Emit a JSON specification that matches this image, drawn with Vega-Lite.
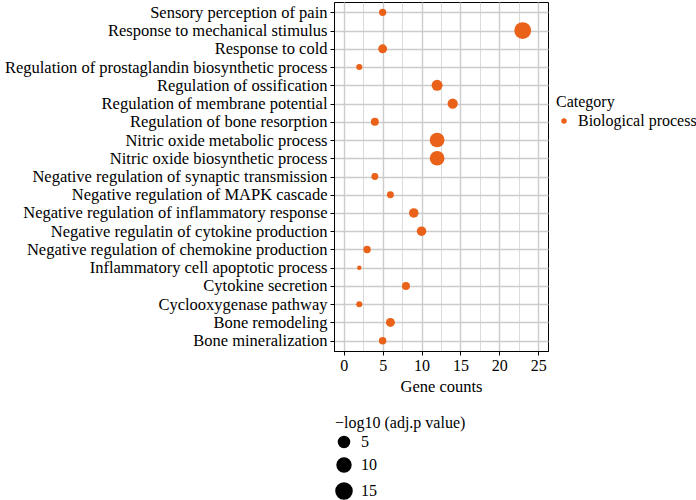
{
  "$schema": "https://vega.github.io/schema/vega-lite/v6.json",
  "width": 214,
  "height": 349,
  "autosize": {"type": "none"},
  "padding": {"left": 334, "top": 2, "right": 148, "bottom": 149},
  "background": "white",
  "config": {
    "font": "Liberation Serif",
    "view": {"stroke": "black", "strokeWidth": 1}
  },
  "data": {
    "values": [
      {"term": "Sensory perception of pain", "count": 5, "logp": 1.1, "category": "Biological process"},
      {"term": "Response to mechanical stimulus", "count": 23, "logp": 17, "category": "Biological process"},
      {"term": "Response to cold", "count": 5, "logp": 2.5, "category": "Biological process"},
      {"term": "Regulation of prostaglandin biosynthetic process", "count": 2, "logp": 0.6, "category": "Biological process"},
      {"term": "Regulation of ossification", "count": 12, "logp": 5, "category": "Biological process"},
      {"term": "Regulation of membrane potential", "count": 14, "logp": 4, "category": "Biological process"},
      {"term": "Regulation of bone resorption", "count": 4, "logp": 1.6, "category": "Biological process"},
      {"term": "Nitric oxide metabolic process", "count": 12, "logp": 11.8, "category": "Biological process"},
      {"term": "Nitric oxide biosynthetic process", "count": 12, "logp": 11.8, "category": "Biological process"},
      {"term": "Negative regulation of synaptic transmission", "count": 4, "logp": 0.9, "category": "Biological process"},
      {"term": "Negative regulation of MAPK cascade", "count": 6, "logp": 0.9, "category": "Biological process"},
      {"term": "Negative regulation of inflammatory response", "count": 9, "logp": 3.1, "category": "Biological process"},
      {"term": "Negative regulatin of cytokine production", "count": 10, "logp": 3.1, "category": "Biological process"},
      {"term": "Negative regulation of chemokine production", "count": 3, "logp": 1.2, "category": "Biological process"},
      {"term": "Inflammatory cell apoptotic process", "count": 2, "logp": 0.1, "category": "Biological process"},
      {"term": "Cytokine secretion", "count": 8, "logp": 1.6, "category": "Biological process"},
      {"term": "Cyclooxygenase pathway", "count": 2, "logp": 0.6, "category": "Biological process"},
      {"term": "Bone remodeling", "count": 6, "logp": 2.5, "category": "Biological process"},
      {"term": "Bone mineralization", "count": 5, "logp": 1.2, "category": "Biological process"}
    ]
  },
  "mark": {"type": "circle", "opacity": 1},
  "encoding": {
    "y": {
      "field": "term",
      "type": "nominal",
      "sort": [
        "Sensory perception of pain",
        "Response to mechanical stimulus",
        "Response to cold",
        "Regulation of prostaglandin biosynthetic process",
        "Regulation of ossification",
        "Regulation of membrane potential",
        "Regulation of bone resorption",
        "Nitric oxide metabolic process",
        "Nitric oxide biosynthetic process",
        "Negative regulation of synaptic transmission",
        "Negative regulation of MAPK cascade",
        "Negative regulation of inflammatory response",
        "Negative regulatin of cytokine production",
        "Negative regulation of chemokine production",
        "Inflammatory cell apoptotic process",
        "Cytokine secretion",
        "Cyclooxygenase pathway",
        "Bone remodeling",
        "Bone mineralization"
      ],
      "scale": {"padding": 0.565},
      "axis": {
        "title": null,
        "grid": true,
        "labelFontSize": 16.5,
        "labelColor": "black",
        "labelPadding": 3,
        "labelLimit": 400,
        "tickColor": "black",
        "tickSize": 4,
        "domainColor": "black",
        "gridColor": "#cccccc",
        "gridWidth": 1.3
      }
    },
    "x": {
      "field": "count",
      "type": "quantitative",
      "scale": {"domain": [-1.25, 26.25], "nice": false, "zero": false},
      "axis": {
        "title": "Gene counts",
        "titleFontSize": 16.5,
        "titleFontWeight": "normal",
        "titleColor": "black",
        "titlePadding": 5,
        "values": [0, 2.5, 5, 7.5, 10, 12.5, 15, 17.5, 20, 22.5, 25],
        "labelExpr": "datum.value % 5 === 0 ? datum.label : ''",
        "labelFontSize": 16,
        "labelColor": "black",
        "labelPadding": 2,
        "labelFlush": false,
        "tickColor": "black",
        "tickSize": 4,
        "tickOpacity": {"condition": {"test": "datum.value % 5 === 0", "value": 1}, "value": 0},
        "domainColor": "black",
        "gridColor": "#cccccc",
        "gridWidth": {"condition": {"test": "datum.value % 5 === 0", "value": 1.4}, "value": 0.7}
      }
    },
    "color": {
      "field": "category",
      "type": "nominal",
      "scale": {"range": ["#ea6119"]},
      "legend": {
        "title": "Category",
        "orient": "none",
        "legendX": 222,
        "legendY": 92,
        "titleFontSize": 16,
        "titleFontWeight": "normal",
        "titleColor": "black",
        "titlePadding": 3,
        "labelFontSize": 16,
        "labelColor": "black",
        "labelOffset": 6,
        "symbolType": "circle",
        "symbolSize": 30,
        "symbolOpacity": 1
      }
    },
    "size": {
      "field": "logp",
      "type": "quantitative",
      "scale": {
        "domain": [0, 1, 2, 3, 5, 10, 15, 20],
        "range": [16.6, 51.4, 71.4, 89.1, 121, 192.4, 258.2, 321.5]
      },
      "legend": {
        "title": "−log10 (adj.p value)",
        "values": [5, 10, 15],
        "orient": "none",
        "legendX": 1,
        "legendY": 413,
        "titleFontSize": 16,
        "titleFontWeight": "normal",
        "titleColor": "black",
        "titlePadding": 3,
        "labelFontSize": 16,
        "labelColor": "black",
        "labelOffset": 8,
        "symbolFillColor": "black",
        "symbolStrokeColor": "black",
        "symbolOpacity": 1,
        "symbolType": "circle",
        "rowPadding": 4
      }
    }
  }
}
